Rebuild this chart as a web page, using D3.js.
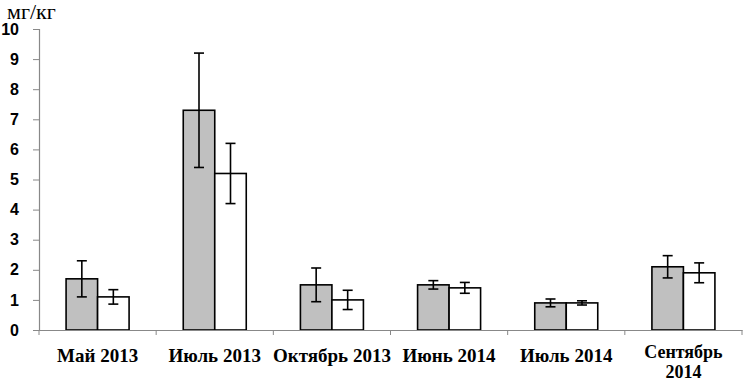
<!DOCTYPE html>
<html><head><meta charset="utf-8">
<script src="https://cdn.jsdelivr.net/npm/d3@7"></script>
<style>body{margin:0;background:#fff}svg{display:block}</style>
</head><body>
<svg id="c" width="743" height="381"></svg>
<script>
const categories = ["Май 2013", "Июль 2013", "Октябрь 2013", "Июнь 2014", "Июль 2014", "Сентябрь 2014"];
const grayValues = [1.7, 7.3, 1.5, 1.5, 0.9, 2.1];
const grayErrors = [0.6, 1.9, 0.56, 0.14, 0.13, 0.37];
const whiteValues = [1.1, 5.2, 1.0, 1.4, 0.9, 1.9];
const whiteErrors = [0.24, 1.0, 0.32, 0.18, 0.07, 0.33];
const yTicks = [0,1,2,3,4,5,6,7,8,9,10];
const unitLabel = "мг/кг";

const svg = d3.select("#c");
const m = {l:39, r:742, t:29, b:330};
const x = d3.scaleBand().domain(categories).range([m.l, m.r]).paddingInner(0).paddingOuter(0);
const y = d3.scaleLinear().domain([0,10]).range([m.b, m.t]);
const sub = d3.scaleBand().domain(["g","w"]).range([0, 63]);
const off = (x.bandwidth()-63)/2;

// y axis
const ya = svg.append("g").attr("transform",`translate(${m.l},0)`)
  .call(d3.axisLeft(y).tickValues(yTicks).tickSize(6).tickPadding(14).tickFormat(d3.format("d")));
ya.select(".domain").attr("stroke","#888").attr("stroke-width",1.2);
ya.selectAll(".tick line").attr("stroke","#888");
ya.selectAll("text").attr("font-family","'Liberation Sans', Arial, sans-serif").attr("font-weight","bold").attr("font-size",16).attr("fill","#000");

// bars
const groups = svg.append("g").selectAll("g").data(categories).join("g")
  .attr("transform", d => `translate(${x(d)+off},0)`);
const series = [
  {k:"g", vals:grayValues, errs:grayErrors, fill:"#c0c0c0"},
  {k:"w", vals:whiteValues, errs:whiteErrors, fill:"#ffffff"}
];
series.forEach(s => {
  groups.append("rect")
    .attr("x", sub(s.k)).attr("width", sub.bandwidth())
    .attr("y", (d,i)=>y(s.vals[i])).attr("height",(d,i)=>y(0)-y(s.vals[i]))
    .attr("fill", s.fill).attr("stroke","#000").attr("stroke-width",1.6);
});
series.forEach(s => {
  const cx = sub(s.k)+sub.bandwidth()/2;
  const eg = groups.append("g").attr("stroke","#000").attr("stroke-width",1.6);
  eg.append("line").attr("x1",cx).attr("x2",cx)
    .attr("y1",(d,i)=>y(s.vals[i]+s.errs[i])).attr("y2",(d,i)=>y(s.vals[i]-s.errs[i]));
  eg.append("line").attr("x1",cx-5).attr("x2",cx+5)
    .attr("y1",(d,i)=>y(s.vals[i]+s.errs[i])).attr("y2",(d,i)=>y(s.vals[i]+s.errs[i]));
  eg.append("line").attr("x1",cx-5).attr("x2",cx+5)
    .attr("y1",(d,i)=>y(s.vals[i]-s.errs[i])).attr("y2",(d,i)=>y(s.vals[i]-s.errs[i]));
});

// x axis
const xa = svg.append("g").attr("transform",`translate(0,${m.b})`)
  .call(d3.axisBottom(x).tickSize(0).tickSizeOuter(0).tickFormat(""));
xa.select(".domain").attr("stroke","#888").attr("stroke-width",1.2);
xa.selectAll(".tick").remove();
const bounds = categories.map(c=>x(c)).concat([m.r]);
svg.append("g").selectAll("line").data(bounds).join("line")
  .attr("x1",d=>d).attr("x2",d=>d).attr("y1",m.b).attr("y2",m.b+5)
  .attr("stroke","#888").attr("stroke-width",1);

const lab = svg.append("g").attr("font-family","'Liberation Serif','Times New Roman',serif")
  .attr("font-weight","bold").attr("font-size",19).attr("text-anchor","middle").attr("fill","#000");
categories.forEach(c => {
  const cx = x(c)+x.bandwidth()/2;
  const parts = c === "Сентябрь 2014" ? ["Сентябрь","2014"] : [c];
  const y0 = parts.length > 1 ? 358 : 362;
  parts.forEach((p,j) => lab.append("text").attr("x",cx).attr("y",y0+j*20)
    .attr("font-size", parts.length > 1 ? 18 : 19).text(p));
});

svg.append("text").attr("x",7).attr("y",19).attr("font-family","'Liberation Serif','Times New Roman',serif")
  .attr("font-size",22).attr("fill","#000").text(unitLabel);
</script>
</body></html>
